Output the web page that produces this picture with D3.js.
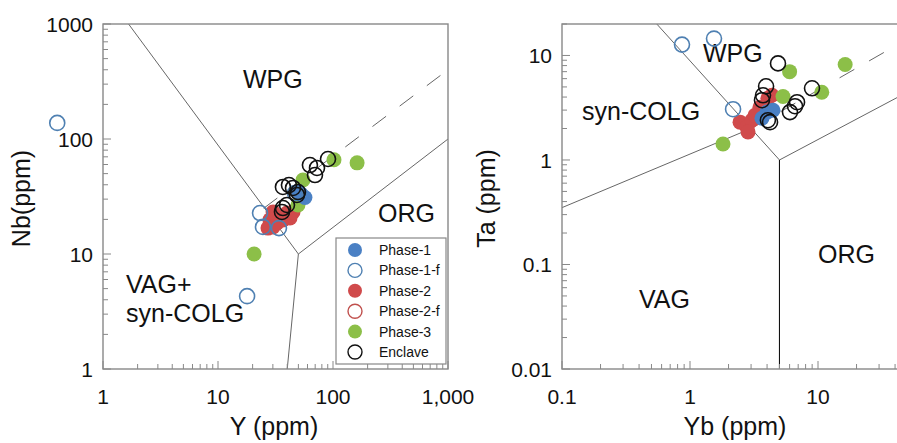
<!DOCTYPE html>
<html>
<head>
<meta charset="utf-8">
<script src="https://cdn.jsdelivr.net/npm/d3@7"></script>
<style>
  body { margin: 0; background: #fff; }
  svg { display: block; font-family: "Liberation Sans", Arial, sans-serif; }
</style>
</head>
<body>
<div id="chart"></div>
<script>
// legend / series
const seriesNames = ["Phase-1", "Phase-1-f", "Phase-2", "Phase-2-f", "Phase-3", "Enclave"];

// Y vs Nb (ppm)
const yNb_phase1 = [[57, 31], [50, 35], [53, 33]];
const yNb_phase1f = [[0.4, 138], [17.9, 4.3], [23.2, 22.7], [24.6, 17.2], [33.9, 16.8], [46.7, 33.9]];
const yNb_phase2 = [[30.1, 23.2], [28.3, 19.8], [32.6, 18.6], [36.7, 19.8], [42.3, 20.6],
                    [30.1, 17.2], [27.2, 16.8], [39.8, 22.7], [44.9, 23.2]];
const yNb_phase2f = [];
const yNb_phase3 = [[20.6, 10], [162, 62], [102, 66], [54.8, 44], [49.6, 26.7]];
const yNb_enclave = [[90.5, 67], [63, 59.4], [72.6, 56], [69.7, 48.6], [36.7, 38.3], [41.4, 39.8],
                     [44.9, 37.5], [49.6, 34.6], [48.6, 32.6], [36.7, 25.1], [39.8, 26.7], [36, 23.2]];

// Yb vs Ta (ppm), right diagram
const ybTa_phase1 = [[4.45, 2.99], [4.0, 2.87], [3.65, 2.51]];
const ybTa_phase1f = [[0.866, 12.7], [1.54, 14.5], [2.17, 3.06]];
const ybTa_phase2 = [[2.46, 2.3], [2.79, 2.06], [3.05, 2.4], [3.22, 2.68], [3.52, 3.2],
                     [4.06, 3.89], [4.37, 4.16], [2.84, 1.85]];
const ybTa_phase2f = [];
const ybTa_phase3 = [[1.81, 1.42], [6.0, 7.0], [16.3, 8.2], [10.7, 4.44], [5.33, 4.05]];
const ybTa_enclave = [[4.87, 8.4], [3.93, 5.07], [3.72, 4.16], [3.65, 3.73], [8.98, 4.85],
                      [6.86, 3.57], [6.61, 3.27], [6.04, 2.87], [4.06, 2.4], [4.22, 2.3]];

// discrimination boundaries (Pearce et al. 1984)
const yNbLines = [[[1, 2000], [50, 10]], [[50, 10], [40, 1]], [[50, 10], [1000, 100]]];
const yNbDashed = [[25, 25], [1000, 400]];
const ybTaLines = [[[0.55, 20], [5, 1]], [[5, 1], [100, 7]], [[0.1, 0.35], [3, 2]]];
const ybTaVertical = [[5, 1], [5, 0.01]];
const ybTaDashed = [[3, 2], [80, 20]];

// tick labels
const yNbXLabels = ["1", "10", "100", "1,000"];
const yNbYLabels = ["1", "10", "100", "1000"];
const ybTaXLabels = ["0.1", "1", "10"];
const ybTaYLabels = ["0.01", "0.1", "1", "10"];

const W = 897, H = 443;
const svg = d3.select("#chart").append("svg").attr("width", W).attr("height", H);

const styles = {
  "Phase-1":   { fill: "#4a80c4", stroke: "none" },
  "Phase-1-f": { fill: "none", stroke: "#4f80b2" },
  "Phase-2":   { fill: "#d04a4b", stroke: "none" },
  "Phase-2-f": { fill: "none", stroke: "#c0504d" },
  "Phase-3":   { fill: "#8cbf48", stroke: "none" },
  "Enclave":   { fill: "none", stroke: "#111" }
};
// draw order (enclave on top)
const drawOrder = ["Phase-2", "Phase-2-f", "Phase-3", "Phase-1", "Phase-1-f", "Enclave"];

function panel(opt) {
  const x = d3.scaleLog().domain(opt.xDomain).range([opt.left, opt.left + opt.width]);
  const y = d3.scaleLog().domain(opt.yDomain).range([opt.top + opt.height, opt.top]);
  const g = svg.append("g");

  const clipId = "clip-" + opt.id;
  svg.append("clipPath").attr("id", clipId)
    .append("rect").attr("x", opt.left).attr("y", opt.top)
    .attr("width", opt.width).attr("height", opt.height);

  const line = d3.line().x(d => x(d[0])).y(d => y(d[1]));
  const lines = g.append("g").attr("clip-path", `url(#${clipId})`);
  opt.lines.forEach(l => {
    lines.append("path").attr("d", line(l)).attr("fill", "none")
      .attr("stroke", "#666").attr("stroke-width", 1);
  });
  if (opt.vertical) {
    lines.append("path").attr("d", line(opt.vertical)).attr("fill", "none")
      .attr("stroke", "#111").attr("stroke-width", 1.1);
  }
  lines.append("path").attr("d", line(opt.dashed)).attr("fill", "none")
    .attr("stroke", "#666").attr("stroke-width", 1).attr("stroke-dasharray", "17,17");

  // frame
  g.append("rect").attr("x", opt.left).attr("y", opt.top)
    .attr("width", opt.width).attr("height", opt.height)
    .attr("fill", "none").attr("stroke", "#888").attr("stroke-width", 1.4);

  const isMajor = v => Math.abs(Math.log10(v) - Math.round(Math.log10(v))) < 1e-6;
  const bottom = opt.top + opt.height;

  // inward ticks
  x.ticks().forEach(v => {
    const len = isMajor(v) ? 8 : 5;
    g.append("line").attr("x1", x(v)).attr("x2", x(v))
      .attr("y1", bottom).attr("y2", bottom - len)
      .attr("stroke", "#888").attr("stroke-width", 1);
  });
  y.ticks().forEach(v => {
    const len = isMajor(v) ? 8 : 5;
    g.append("line").attr("y1", y(v)).attr("y2", y(v))
      .attr("x1", opt.left).attr("x2", opt.left + len)
      .attr("stroke", "#888").attr("stroke-width", 1);
  });

  x.ticks().filter(isMajor).forEach((v, i) => {
    if (i >= opt.xLabels.length) return;
    g.append("text").attr("x", x(v)).attr("y", bottom + 35)
      .attr("text-anchor", "middle").attr("font-size", 21).attr("fill", "#111")
      .text(opt.xLabels[i]);
  });
  y.ticks().filter(isMajor).forEach((v, i) => {
    g.append("text").attr("x", opt.left - 10).attr("y", y(v)).attr("dy", "0.36em")
      .attr("text-anchor", "end").attr("font-size", 21).attr("fill", "#111")
      .text(opt.yLabels[i]);
  });

  // axis titles
  g.append("text").attr("x", opt.xTitleX).attr("y", 435)
    .attr("text-anchor", "middle").attr("font-size", 25).attr("fill", "#111")
    .text(opt.xTitle);
  g.append("text").attr("transform", `translate(${opt.yTitleX},${opt.top + opt.height / 2 + 2}) rotate(-90)`)
    .attr("text-anchor", "middle").attr("font-size", 25).attr("fill", "#111")
    .text(opt.yTitle);

  // field names
  opt.fields.forEach(f => {
    g.append("text").attr("x", opt.left + f[1]).attr("y", opt.top + f[2])
      .attr("font-size", 25).attr("fill", "#111").text(f[0]);
  });

  // points
  drawOrder.forEach(name => {
    const s = styles[name];
    g.append("g").selectAll("circle")
      .data(opt.series[name])
      .join("circle")
      .attr("cx", d => x(d[0]))
      .attr("cy", d => y(d[1]))
      .attr("r", 7.5)
      .attr("fill", s.fill)
      .attr("stroke", s.stroke)
      .attr("stroke-width", s.stroke === "none" ? 0 : 1.6);
  });
  return { x, y, g };
}

panel({
  id: "ynb", left: 103, top: 24, width: 345, height: 345,
  xDomain: [1, 1000], yDomain: [1, 1000],
  lines: yNbLines, dashed: yNbDashed,
  xLabels: yNbXLabels, yLabels: yNbYLabels,
  xTitle: "Y (ppm)", yTitle: "Nb(ppm)", xTitleX: 274, yTitleX: 30,
  fields: [["WPG", 140, 64], ["ORG", 275, 198], ["VAG+", 23, 269], ["syn-COLG", 23, 298]],
  series: {
    "Phase-1": yNb_phase1, "Phase-1-f": yNb_phase1f, "Phase-2": yNb_phase2,
    "Phase-2-f": yNb_phase2f, "Phase-3": yNb_phase3, "Enclave": yNb_enclave
  }
});

panel({
  id: "ybta", left: 562, top: 24, width: 384, height: 345,
  xDomain: [0.1, 100], yDomain: [0.01, 20],
  lines: ybTaLines, vertical: ybTaVertical, dashed: ybTaDashed,
  xLabels: ybTaXLabels, yLabels: ybTaYLabels,
  xTitle: "Yb (ppm)", yTitle: "Ta (ppm)", xTitleX: 735, yTitleX: 495,
  fields: [["WPG", 141, 38], ["syn-COLG", 20, 96], ["VAG", 77, 284], ["ORG", 256, 239]],
  series: {
    "Phase-1": ybTa_phase1, "Phase-1-f": ybTa_phase1f, "Phase-2": ybTa_phase2,
    "Phase-2-f": ybTa_phase2f, "Phase-3": ybTa_phase3, "Enclave": ybTa_enclave
  }
});

// legend in the left panel
const legend = svg.append("g").attr("transform", "translate(336,238)");
legend.append("rect").attr("width", 110).attr("height", 126)
  .attr("fill", "#fff").attr("stroke", "#888").attr("stroke-width", 1.2);
seriesNames.forEach((name, i) => {
  const s = styles[name];
  const row = legend.append("g").attr("transform", `translate(0,${12 + i * 20.4})`);
  row.append("circle").attr("cx", 19).attr("cy", 0).attr("r", 7)
    .attr("fill", s.fill).attr("stroke", s.stroke)
    .attr("stroke-width", s.stroke === "none" ? 0 : 1.4);
  row.append("text").attr("x", 43).attr("y", 0).attr("dy", "0.36em")
    .attr("font-size", 14).attr("fill", "#111").text(name);
});
</script>
</body>
</html>
